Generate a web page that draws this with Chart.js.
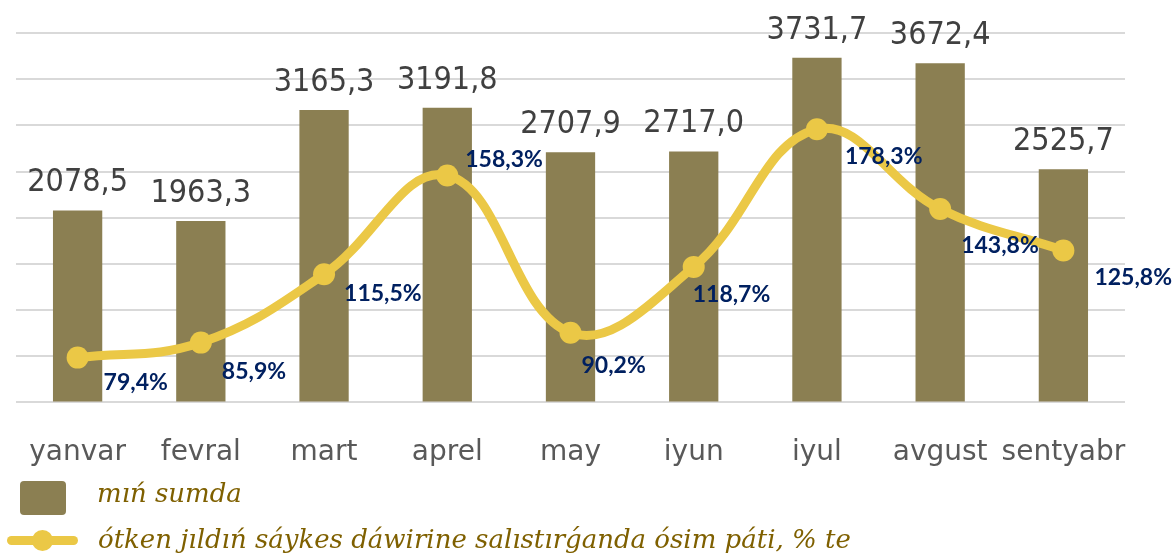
<!DOCTYPE html>
<html>
<head>
<meta charset="utf-8">
<script src="https://cdn.jsdelivr.net/npm/chart.js@4"></script>
<style>
  html, body { margin: 0; padding: 0; background: #fff; }
  #wrap { position: relative; width: 1175px; height: 556px; overflow: hidden; }
  .legend { position: absolute; left: 0; font-family: "DejaVu Serif", serif; font-style: italic; font-size: 26px; color: #7F6000; white-space: nowrap; }
  .box { position: absolute; left: 20px; top: 481px; width: 46px; height: 34px; border-radius: 4px; background: #8B7F52; }
  .lline { position: absolute; left: 7px; top: 536px; width: 71px; height: 9px; border-radius: 5px; background: #EBC846; }
  .ldot { position: absolute; left: 32px; top: 530px; width: 21px; height: 21px; border-radius: 50%; background: #EBC846; }
</style>
</head>
<body>
<div id="wrap">
  <canvas id="chart" width="1175" height="556"></canvas>
  <div class="box"></div>
  <div class="legend" style="left:97px; top:478px;">mıń sumda</div>
  <div class="lline"></div>
  <div class="ldot"></div>
  <div class="legend" style="left:98px; top:524px;">ótken jıldıń sáykes dáwirine salıstırǵanda ósim páti, % te</div>
</div>
<script>
const months = ["yanvar", "fevral", "mart", "aprel", "may", "iyun", "iyul", "avgust", "sentyabr"];
const sums = [2078.5, 1963.3, 3165.3, 3191.8, 2707.9, 2717.0, 3731.7, 3672.4, 2525.7];
const growth = [79.4, 85.9, 115.5, 158.3, 90.2, 118.7, 178.3, 143.8, 125.8];
// where each % label sits relative to its point (left edge, middle)
const growthLabelOffsets = [[26, 25], [21, 29], [20, 19], [18, -16], [11, 33], [-1, 28], [28, 27], [21, 37], [31, 27]];

const fmt = (v) => v.toFixed(1).replace(".", ",");

const valueLabels = {
  id: "valueLabels",
  afterDatasetsDraw(chart) {
    const ctx = chart.ctx;
    ctx.save();
    const barMeta = chart.getDatasetMeta(1);
    ctx.font = '32px "Liberation Sans Narrow", "DejaVu Sans Condensed", sans-serif';
    ctx.fillStyle = "#404040";
    ctx.textAlign = "center";
    ctx.textBaseline = "alphabetic";
    barMeta.data.forEach((bar, i) => {
      ctx.fillText(fmt(sums[i]), bar.x, bar.y - 19);
    });
    const lineMeta = chart.getDatasetMeta(0);
    ctx.font = 'bold 23px Lato, "DejaVu Sans", sans-serif';
    ctx.fillStyle = "#002060";
    ctx.textAlign = "left";
    ctx.textBaseline = "middle";
    lineMeta.data.forEach((pt, i) => {
      const [dx, dy] = growthLabelOffsets[i];
      ctx.fillText(fmt(growth[i]) + "%", pt.x + dx, pt.y + dy);
    });
    ctx.restore();
  }
};

new Chart(document.getElementById("chart").getContext("2d"), {
  type: "bar",
  data: {
    labels: months,
    datasets: [
      {
        type: "line",
        label: "ótken jıldıń sáykes dáwirine salıstırǵanda ósim páti, % te",
        data: growth,
        yAxisID: "y1",
        borderColor: "#EBC846",
        backgroundColor: "#EBC846",
        borderWidth: 9,
        pointRadius: 11,
        pointBorderWidth: 0,
        tension: 0.4,
        order: 0
      },
      {
        label: "mıń sumda",
        data: sums,
        yAxisID: "y",
        backgroundColor: "#8B7F52",
        barPercentage: 0.4,
        categoryPercentage: 1,
        order: 1
      }
    ]
  },
  options: {
    responsive: false,
    animation: false,
    layout: { padding: { left: 16, right: 50, top: 33, bottom: 60 } },
    plugins: { legend: { display: false }, tooltip: { enabled: false } },
    scales: {
      x: {
        grid: { display: false },
        border: { display: false },
        ticks: {
          color: "#595959",
          font: { family: '"DejaVu Sans", sans-serif', size: 28 },
          padding: 26,
          autoSkip: false,
          maxRotation: 0
        }
      },
      y: {
        min: 0,
        max: 4000,
        ticks: { display: false, stepSize: 500 },
        border: { display: false },
        grid: { color: "#d9d9d9", lineWidth: 2, drawTicks: false }
      },
      y1: {
        display: false,
        min: 60,
        max: 220
      }
    }
  },
  plugins: [valueLabels]
});
</script>
</body>
</html>
